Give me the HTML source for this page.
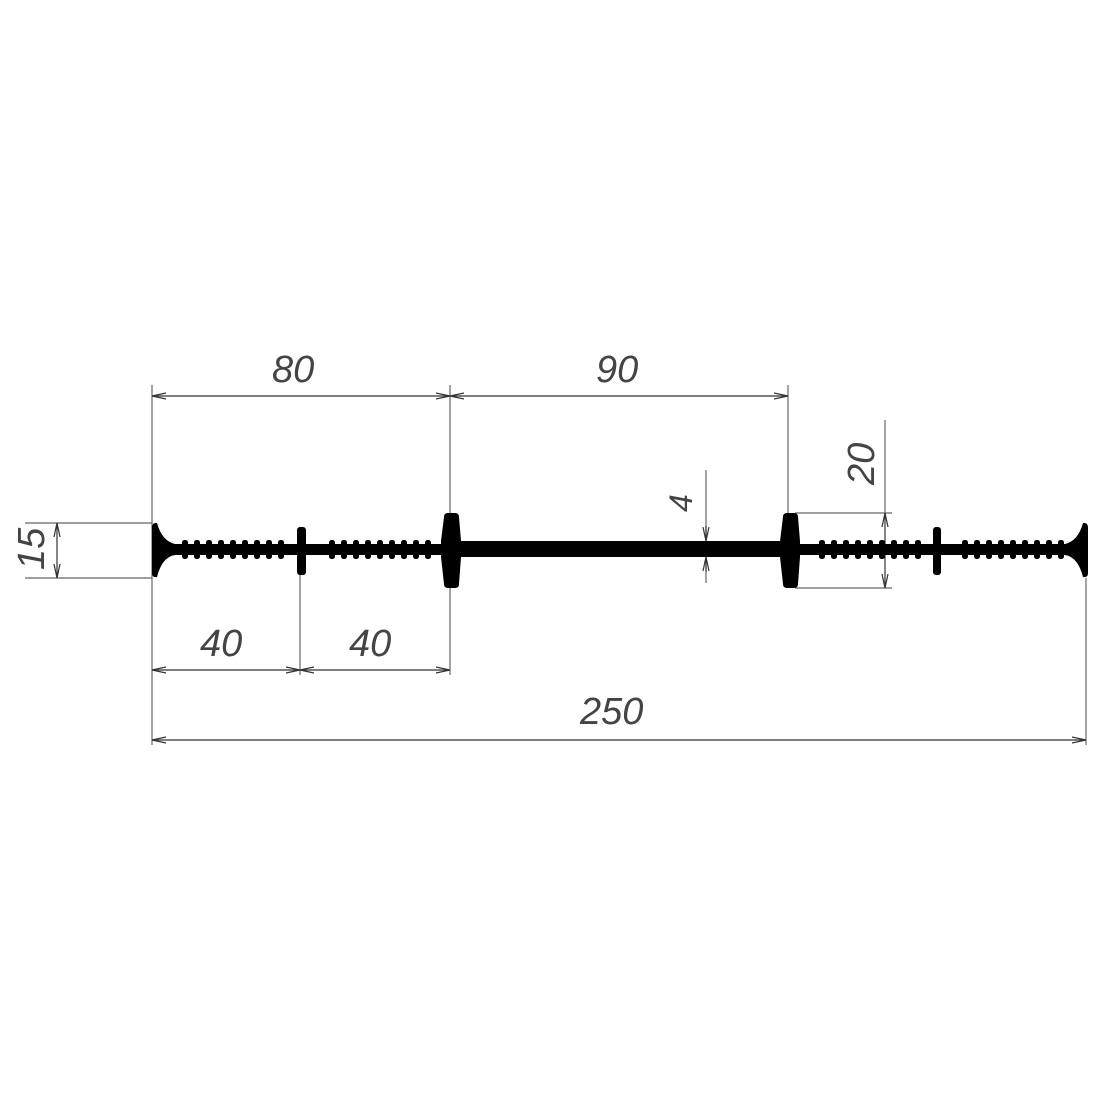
<!DOCTYPE html>
<html><head><meta charset="utf-8"><style>
html,body{margin:0;padding:0;background:#fff;}
svg{display:block}
text{font-family:"Liberation Sans",sans-serif;font-style:italic;font-size:38px;fill:#444;}
</style></head><body>
<svg width="1100" height="1100" viewBox="0 0 1100 1100">
<defs>
<marker id="a" markerWidth="14" markerHeight="8" refX="14" refY="4" orient="auto-start-reverse" markerUnits="userSpaceOnUse">
<path d="M0,1 L14,4 L0,7" fill="none" stroke="#333" stroke-width="1.2"/></marker>
</defs>
<g stroke="#666" stroke-width="1.2" fill="none">
<line x1="152" y1="385" x2="152" y2="745"/>
<line x1="450" y1="385" x2="450" y2="675"/>
<line x1="788" y1="385" x2="788" y2="515"/>
<line x1="300" y1="575" x2="300" y2="675"/>
<line x1="1086" y1="578" x2="1086" y2="745"/>
<line x1="25" y1="523" x2="152" y2="523"/>
<line x1="25" y1="578" x2="152" y2="578"/>
<line x1="795" y1="513" x2="892" y2="513"/>
<line x1="795" y1="588" x2="892" y2="588"/>
<line x1="885" y1="420" x2="885" y2="513"/>
<line x1="706" y1="470" x2="706" y2="541"/>
<line x1="706" y1="557" x2="706" y2="583"/>
</g>
<g stroke="#333" stroke-width="1.2" fill="none">
<line x1="152" y1="396" x2="450" y2="396" marker-start="url(#a)" marker-end="url(#a)"/>
<line x1="450" y1="396" x2="788" y2="396" marker-start="url(#a)" marker-end="url(#a)"/>
<line x1="152" y1="670" x2="300" y2="670" marker-start="url(#a)" marker-end="url(#a)"/>
<line x1="300" y1="670" x2="450" y2="670" marker-start="url(#a)" marker-end="url(#a)"/>
<line x1="152" y1="740" x2="1086" y2="740" marker-start="url(#a)" marker-end="url(#a)"/>
<line x1="57" y1="523" x2="57" y2="578" marker-start="url(#a)" marker-end="url(#a)"/>
<line x1="885" y1="513" x2="885" y2="588" marker-start="url(#a)" marker-end="url(#a)"/>
<line x1="706" y1="526" x2="706" y2="541" marker-end="url(#a)"/>
<line x1="706" y1="572" x2="706" y2="557" marker-end="url(#a)"/>
</g>
<g fill="#000">
<rect x="450" y="541" width="338" height="16"/>
<rect x="160" y="544" width="290" height="11"/>
<rect x="788" y="544" width="292" height="11"/>
<g id="r1">
<rect x="182" y="540" width="6" height="19" rx="2.5"/><rect x="194" y="540" width="6" height="19" rx="2.5"/><rect x="206" y="540" width="6" height="19" rx="2.5"/><rect x="218" y="540" width="6" height="19" rx="2.5"/><rect x="230" y="540" width="6" height="19" rx="2.5"/><rect x="242" y="540" width="6" height="19" rx="2.5"/><rect x="254" y="540" width="6" height="19" rx="2.5"/><rect x="266" y="540" width="6" height="19" rx="2.5"/><rect x="278" y="540" width="6" height="19" rx="2.5"/>
</g>
<use href="#r1" x="147"/>
<use href="#r1" x="637"/>
<use href="#r1" x="780"/>
<path d="M152,528 Q152,522 157,523 Q162,541 175,544 L175,555 Q162,557 157,577 Q152,578 152,573 Z"/>
<path d="M1088,528 Q1088,522 1083,523 Q1078,541 1065,544 L1065,555 Q1078,557 1083,577 Q1088,578 1088,573 Z"/>
<rect x="297" y="527" width="9" height="48" rx="3"/>
<rect x="933" y="527" width="8" height="48" rx="3"/>
<path d="M444,517 Q444,513 448,513 L455,513 Q459,513 459,517 L461,541 L461,557 L459,584 Q459,588 455,588 L448,588 Q444,588 444,584 L441,557 L441,541 Z"/>
<path d="M783,517 Q783,513 787,513 L794,513 Q798,513 798,517 L800,541 L800,557 L798,584 Q798,588 794,588 L787,588 Q783,588 783,584 L780,557 L780,541 Z"/>
</g>
<text x="272" y="382">80</text>
<text x="596" y="382">90</text>
<text x="200" y="656">40</text>
<text x="349" y="656">40</text>
<text x="580" y="724">250</text>
<text transform="translate(44,570) rotate(-90)">15</text>
<text transform="translate(874,485) rotate(-90)">20</text>
<text transform="translate(692,512) rotate(-90)" style="font-size:32px">4</text>
</svg>
</body></html>
